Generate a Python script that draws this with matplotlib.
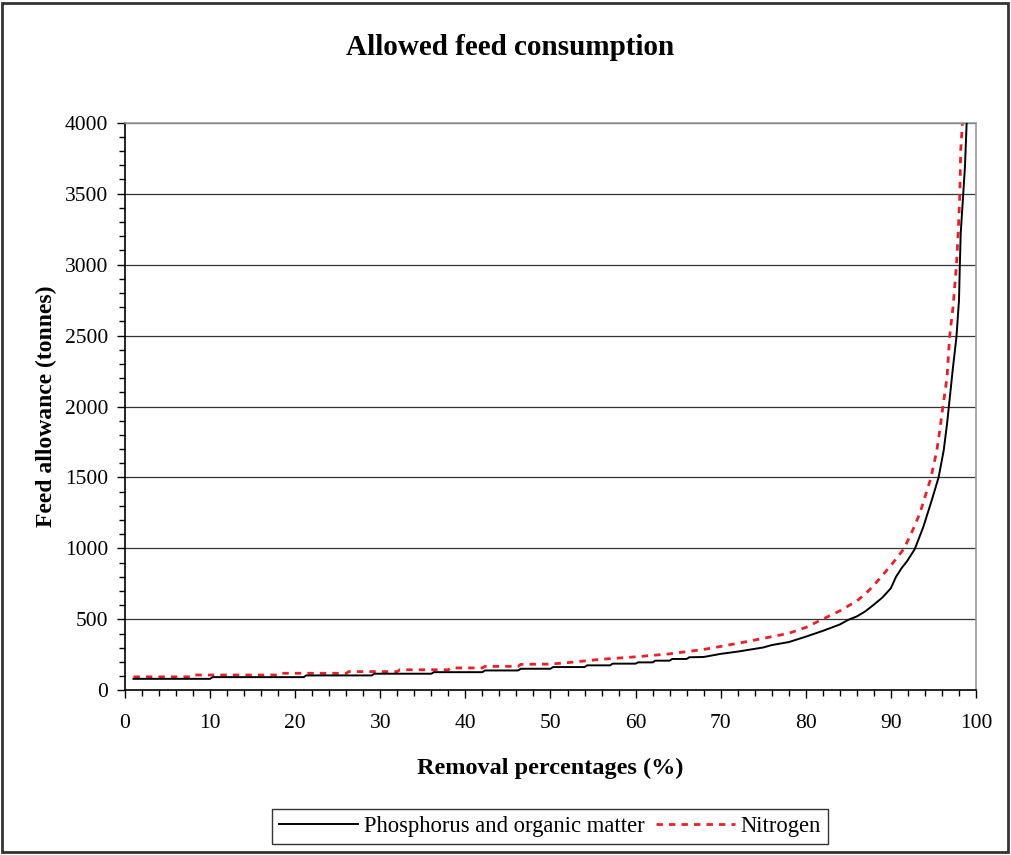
import numpy as np
import matplotlib.pyplot as plt
from matplotlib.patches import Rectangle
from matplotlib.ticker import MultipleLocator

plt.rcParams['font.family'] = ['Liberation Serif', 'DejaVu Serif']

# Phosphorus and organic matter (steps kept)
p_x = [1, 10, 10.3, 21, 21.3, 29, 29.3, 36, 36.3, 42, 42.3, 46.2, 46.5, 50, 50.3,
       54, 54.3, 57, 57.3, 60, 60.3, 62, 62.3, 64, 64.3, 66, 66.3, 68, 70, 72,
       75, 76, 78, 80, 82, 84, 85, 86, 87, 88, 89, 90, 90.6, 91.3, 91.9, 92.8,
       93.8, 94.8, 95.6, 96.2, 96.6, 96.8, 97.3, 97.7, 98.0, 98.1, 98.2, 98.5,
       98.7, 98.9]
p_y = [81, 81, 93, 93, 105, 105, 117, 117, 128, 128, 140, 140, 152, 152, 164,
       164, 176, 176, 188, 188, 197, 197, 209, 209, 221, 221, 233, 235, 257, 273,
       302, 319, 340, 378, 419, 464, 497, 521, 557, 604, 654, 720, 800, 865, 910,
       995, 1150, 1340, 1500, 1690, 1880, 1995, 2280, 2490, 2750, 3000, 3220,
       3500, 3690, 4000]

# Nitrogen
n_x = [1, 7.8, 8.1, 18, 18.3, 26, 26.3, 32, 32.3, 38, 38.3, 42, 42.3, 46.2,
       46.5, 50, 52, 56, 60, 64, 68, 72, 76, 78, 80, 82, 84, 86, 87, 88, 89, 90,
       91.5, 92.4, 93.4, 94.7, 95.4, 95.8, 96.1, 96.6, 96.9, 97.3, 97.7, 97.9,
       98.1, 98.2, 98.4]
n_y = [95, 95, 108, 108, 120, 120, 132, 132, 145, 145, 158, 158, 169, 169, 183,
       185, 195, 219, 236, 257, 288, 331, 378, 402, 443, 502, 560, 630, 680, 740,
       810, 880, 995, 1106, 1247, 1497, 1692, 1857, 1995, 2209, 2494, 2702, 2994,
       3219, 3498, 3806, 3990]

fig = plt.figure(figsize=(10.11, 8.55), dpi=100)
ax = fig.add_axes([0.1236, 0.1926, 0.8418, 0.6639])

for y in range(500, 4001, 500):
    ax.axhline(y, color='#333333', linewidth=0.9, zorder=1)

ax.plot(p_x, p_y, color='black', linewidth=1.4, zorder=3,
        label='Phosphorus and organic matter')
ax.plot(n_x, n_y, color='#e8202a', linewidth=2.0, linestyle=(0, (2.3, 2.2)),
        zorder=2, label='Nitrogen')

ax.set_xlim(0, 100)
ax.set_ylim(0, 4000)
ax.xaxis.set_major_locator(MultipleLocator(10))
ax.xaxis.set_minor_locator(MultipleLocator(2))
ax.yaxis.set_major_locator(MultipleLocator(500))
ax.yaxis.set_minor_locator(MultipleLocator(100))
ax.tick_params(which='major', direction='out', length=6, width=1,
               labelsize=15.5)
ax.tick_params(axis='x', which='major', pad=11)
ax.tick_params(axis='y', which='major', pad=6)
ax.tick_params(which='minor', direction='out', length=4, width=1)

ax.spines['left'].set_color('black')
ax.spines['bottom'].set_color('black')
ax.spines['right'].set_color('#999999')
ax.spines['top'].set_color('#999999')
for s in ax.spines.values():
    s.set_linewidth(1.2)

ax.set_xlabel('Removal percentages (%)', fontsize=17.5, fontweight='bold',
              labelpad=18)
ax.set_ylabel('Feed allowance (tonnes)', fontsize=17, fontweight='bold',
              labelpad=6)

fig.text(0.505, 0.945, 'Allowed feed consumption', fontsize=21,
         fontweight='bold', ha='center', va='center')

leg = fig.legend(loc='center', bbox_to_anchor=(0.544, 0.0333), ncol=2,
                 fontsize=16.3, frameon=True, fancybox=False, edgecolor='black',
                 handlelength=3.5, columnspacing=0.5, handletextpad=0.25,
                 borderpad=0.3, borderaxespad=0)
leg.get_frame().set_linewidth(1.0)

fig.patches.append(Rectangle((0.002, 0.003), 0.995, 0.994, transform=fig.transFigure,
                             fill=False, edgecolor='#333333', linewidth=2))

fig.savefig('out.png', dpi=100)
